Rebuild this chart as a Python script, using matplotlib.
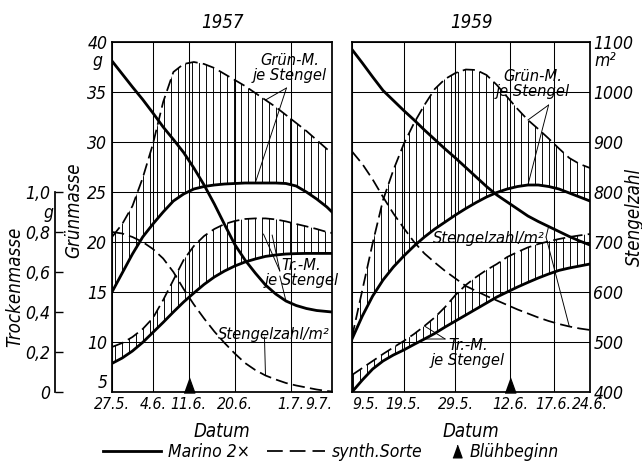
import matplotlib.pyplot as plt
from matplotlib.lines import Line2D
from matplotlib.transforms import blended_transform_factory

plt.rcParams['font.family'] = ['DejaVu Sans']
plt.rcParams['font.stretch'] = 'condensed'
plt.rcParams['font.style'] = 'italic'
plt.rcParams['font.size'] = 15
plt.rcParams['xtick.labelsize'] = 13.5
plt.rcParams['ytick.labelsize'] = 15
plt.rcParams['hatch.linewidth'] = 0.8

# days after first sampling date
days_57 = [0, 2, 4, 6, 8, 10, 12, 14, 16, 18, 20, 22, 24, 26, 28, 30, 32, 34, 36, 38, 40, 42, 43]
ticks_57 = [0, 8, 15, 24, 35, 43]
labels_57 = ['27.5.', '4.6.', '11.6.', '20.6.', '1.7.', '9.7.']
bloom_57 = 15

days_59 = [0, 2, 4, 6, 8, 10, 12, 14, 16, 18, 20, 22, 24, 26, 28, 30, 32, 34, 36, 38, 40, 42, 44, 46]
ticks_59 = [0, 10, 20, 30.6, 39, 46]
labels_59 = ['9.5.', '19.5.', '29.5.', '12.6.', '17.6.', '24.6.']
bloom_59 = 30.6

# Stengelzahl/m2
stems_marino_57 = [1062, 1036, 1010, 985, 958, 930, 905, 879, 848, 814, 776, 735, 695, 664, 638,
                   614, 596, 582, 573, 567, 563, 561, 560]
stems_synth_57 = [720, 717, 710, 700, 686, 667, 640, 606, 575, 547, 521, 498, 477, 458, 444,
                  433, 425, 418, 413, 409, 405, 402, 401]
stems_marino_59 = [1085, 1058, 1030, 1003, 983, 963, 944, 924, 905, 886, 868, 849, 830, 811, 794,
                   780, 766, 752, 741, 731, 721, 711, 702, 694]
stems_synth_59 = [881, 856, 825, 790, 757, 728, 700, 677, 659, 642, 627, 612, 602, 592, 583,
                  574, 565, 557, 549, 542, 536, 531, 527, 524]

# Grünmasse je Stengel (g)
green_marino_57 = [15.0, 16.9, 18.8, 20.5, 21.8, 23.0, 24.1, 24.8, 25.3, 25.55, 25.7, 25.8, 25.85,
                   25.9, 25.9, 25.9, 25.9, 25.85, 25.6, 25.0, 24.3, 23.5, 23.0]
green_synth_57 = [20.5, 21.8, 23.6, 26.4, 29.8, 34.0, 37.0, 37.8, 38.0, 37.8, 37.4, 36.8, 36.2,
                  35.6, 34.9, 34.2, 33.5, 32.7, 31.9, 31.1, 30.2, 29.3, 28.9]
green_marino_59 = [10.3, 12.6, 14.6, 16.2, 17.5, 18.6, 19.6, 20.5, 21.3, 22.0, 22.7, 23.35, 23.95,
                   24.5, 24.95, 25.3, 25.55, 25.7, 25.7, 25.55, 25.3, 24.9, 24.5, 24.1]
green_synth_59 = [10.5, 15.2, 19.9, 24.2, 27.2, 29.8, 31.9, 33.7, 35.3, 36.3, 36.9, 37.25, 37.2,
                  36.7, 35.7, 34.5, 33.3, 32.2, 31.3, 30.35, 29.35, 28.4, 27.8, 27.4]

# Trockenmasse je Stengel (g)
dry_marino_57 = [0.143, 0.17, 0.205, 0.248, 0.298, 0.348, 0.40, 0.45, 0.495, 0.538, 0.575, 0.605,
                 0.63, 0.65, 0.665, 0.678, 0.685, 0.69, 0.692, 0.693, 0.693, 0.693, 0.693]
dry_synth_57 = [0.225, 0.245, 0.275, 0.315, 0.37, 0.46, 0.56, 0.66, 0.73, 0.78, 0.815, 0.84,
                0.855, 0.865, 0.868, 0.868, 0.863, 0.853, 0.84, 0.828, 0.815, 0.80, 0.795]
dry_marino_59 = [0.0, 0.06, 0.115, 0.155, 0.185, 0.21, 0.238, 0.265, 0.293, 0.325, 0.355, 0.385,
                 0.415, 0.445, 0.475, 0.50, 0.525, 0.548, 0.57, 0.59, 0.608, 0.62, 0.63, 0.64]
dry_synth_59 = [0.085, 0.12, 0.155, 0.19, 0.223, 0.255, 0.29, 0.33, 0.373, 0.425, 0.485, 0.535,
                0.575, 0.61, 0.64, 0.675, 0.70, 0.723, 0.74, 0.753, 0.765, 0.775, 0.783, 0.79]

green_ticks = [5, 10, 15, 20, 25, 30, 35, 40]
stem_ticks = [400, 500, 600, 700, 800, 900, 1000, 1100]
dry_ticks = [0, 0.2, 0.4, 0.6, 0.8, 1.0]
dry_labels = ['0', '0,2', '0,4', '0,6', '0,8', '1,0']

SOLID = dict(color='k', lw=2.4, ls='-')
DASHED = dict(color='k', lw=1.5, ls=(0, (7, 3)))
LEADER = dict(arrowstyle='-', color='k', lw=0.8, shrinkA=0, shrinkB=0)
TRIANGLE = [(-0.36, -0.5), (0.36, -0.5), (0, 0.5)]


def draw_panel(ax, days, ticks, labels, bloom, stems_m, stems_s, green_m, green_s, dry_m, dry_s):
    ax.set_xlim(days[0], days[-1])
    ax.set_ylim(5, 40)
    ax.set_xticks(ticks)
    ax.set_xticklabels(labels)
    ax.set_yticks(green_ticks)
    ax.grid(True, color='k', lw=0.9)
    ax.tick_params(length=0, pad=4)
    for s in ax.spines.values():
        s.set_linewidth(1.5)

    ax_s = ax.twinx()
    ax_s.set_ylim(400, 1100)
    ax_t = ax.twinx()
    ax_t.set_ylim(0, 1.75)
    for a in (ax_s, ax_t):
        for s in a.spines.values():
            s.set_visible(False)
        a.set_yticks([])

    # green mass per stem
    ax.fill_between(days, green_m, green_s, facecolor='none', edgecolor='k', hatch='||', lw=0)
    ax.plot(days, green_m, **SOLID)
    ax.plot(days, green_s, **DASHED)
    # dry mass per stem
    ax_t.fill_between(days, dry_m, dry_s, facecolor='none', edgecolor='k', hatch='||', lw=0)
    ax_t.plot(days, dry_m, **SOLID)
    ax_t.plot(days, dry_s, **DASHED)
    # stems per m2
    ax_s.plot(days, stems_m, **SOLID)
    ax_s.plot(days, stems_s, **DASHED)

    tr = blended_transform_factory(ax.transData, ax.transAxes)
    ax.plot([bloom], [0.021], transform=tr, marker=TRIANGLE, ms=13, color='k',
            clip_on=False, zorder=5)

    ax.set_xlabel('Datum', fontsize=16)
    ax.xaxis.set_label_coords(0.5, -0.085)
    return ax_s, ax_t


fig = plt.figure(figsize=(642 / 84, 464 / 84), dpi=84)
ax57 = fig.add_axes([112 / 642, 72 / 464, 220 / 642, 350 / 464])
ax59 = fig.add_axes([352 / 642, 72 / 464, 238 / 642, 350 / 464])

s57, t57 = draw_panel(ax57, days_57, ticks_57, labels_57, bloom_57, stems_marino_57, stems_synth_57,
                      green_marino_57, green_synth_57, dry_marino_57, dry_synth_57)
s59, t59 = draw_panel(ax59, days_59, ticks_59, labels_59, bloom_59, stems_marino_59, stems_synth_59,
                      green_marino_59, green_synth_59, dry_marino_59, dry_synth_59)

ax57.get_xticklabels()[-1].set_ha('right')
ax57.get_yticklabels()[0].set_va('bottom')
ax59.get_xticklabels()[0].set_ha('left')
ax59.set_yticklabels([])

ax57.text(0.5, 1.057, '1957', transform=ax57.transAxes, ha='center', va='center', fontsize=16)
ax59.text(0.5, 1.057, '1959', transform=ax59.transAxes, ha='center', va='center', fontsize=16)

# Grünmasse axis
ax57.set_ylabel('Grünmasse', fontsize=16)
ax57.yaxis.set_label_coords(-0.13, 0.52)
ax57.text(-0.068, 0.946, 'g', transform=ax57.transAxes, ha='center', va='center')

# Trockenmasse axis, offset to the left
t57.spines['left'].set_visible(True)
t57.spines['left'].set_position(('outward', 49))
t57.spines['left'].set_bounds(0, 1.0)
t57.spines['left'].set_linewidth(1.5)
t57.yaxis.set_ticks_position('left')
t57.yaxis.set_label_position('left')
t57.set_yticks(dry_ticks)
t57.set_yticklabels(dry_labels)
t57.tick_params(axis='y', direction='in', length=7, width=1.2, pad=4)
t57.set_ylabel('Trockenmasse', fontsize=16)
t57.yaxis.set_label_coords(-0.40, 0.30)
ax57.text(-0.29, 0.512, 'g', transform=ax57.transAxes, ha='center', va='center')

# Stengelzahl axis on the right
s59.set_yticks(stem_ticks)
s59.tick_params(axis='y', length=0, pad=3)
s59.set_ylabel('Stengelzahl', fontsize=16)
s59.yaxis.set_label_coords(1.145, 0.50)
ax59.text(1.02, 0.946, 'm²', transform=ax59.transAxes, ha='left', va='center')

# labels with leader lines, 1957
i30, i28 = days_57.index(30), days_57.index(28)
ax57.text(34.8, 37.4, 'Grün-M.\nje Stengel', ha='center', va='center', linespacing=0.95, fontsize=14)
ax57.annotate('', xy=(days_57[i30], green_synth_57[i30]), xytext=(34.1, 35.4), arrowprops=LEADER)
ax57.annotate('', xy=(days_57[i28], green_marino_57[i28]), xytext=(34.1, 35.4), arrowprops=LEADER)

ax57.text(37.0, 16.9, 'Tr.-M.\nje Stengel', ha='center', va='center', linespacing=0.95, fontsize=14)
ax57.annotate('', xy=(29.6, 20.8), xytext=(32.8, 17.1), arrowprops=LEADER)
ax57.annotate('', xy=(31.3, 20.7), xytext=(32.8, 17.1), arrowprops=LEADER)

ax57.text(31.6, 10.7, 'Stengelzahl/m²', ha='center', va='center', fontsize=14)
i34, i30 = days_57.index(34), days_57.index(30)
s57.annotate('', xy=(days_57[i34], stems_marino_57[i34]), xytext=(32.8, 632), arrowprops=LEADER)
s57.annotate('', xy=(days_57[i30], stems_synth_57[i30]), xytext=(29.8, 510), arrowprops=LEADER)

# labels with leader lines, 1959
j34 = days_59.index(34)
ax59.text(35.0, 35.8, 'Grün-M.\nje Stengel', ha='center', va='center', linespacing=0.95, fontsize=14)
ax59.annotate('', xy=(days_59[j34], green_synth_59[j34]), xytext=(38.0, 33.7), arrowprops=LEADER)
ax59.annotate('', xy=(days_59[j34], green_marino_59[j34]), xytext=(38.0, 33.7), arrowprops=LEADER)

ax59.text(26.5, 20.4, 'Stengelzahl/m²', ha='center', va='center', fontsize=14)
j38, j42 = days_59.index(38), days_59.index(42)
s59.annotate('', xy=(days_59[j38], stems_marino_59[j38]), xytext=(37.5, 710), arrowprops=LEADER)
s59.annotate('', xy=(days_59[j42], stems_synth_59[j42]), xytext=(37.5, 710), arrowprops=LEADER)

ax59.text(22.4, 8.9, 'Tr.-M.\nje Stengel', ha='center', va='center', linespacing=0.95, fontsize=14)
j14 = days_59.index(14)
t59.annotate('', xy=(days_59[j14], dry_synth_59[j14]), xytext=(18.0, 0.265), arrowprops=LEADER)
t59.annotate('', xy=(days_59[j14], dry_marino_59[j14]), xytext=(18.0, 0.265), arrowprops=LEADER)

# legend
solid_h = Line2D([], [], **SOLID)
dashed_h = Line2D([], [], color='k', lw=1.5, ls=(0, (9, 4)))
bloom_h = Line2D([], [], ls='none', color='k', marker=TRIANGLE, ms=11)
fig.legend([solid_h, dashed_h], ['Marino 2×', 'synth.Sorte'], loc='center',
           bbox_to_anchor=(263 / 642, 12 / 464), ncol=2, frameon=False, handlelength=3.3,
           handletextpad=0.4, columnspacing=1.0, borderpad=0, fontsize=15)
fig.legend([bloom_h], ['Blühbeginn'], loc='center', bbox_to_anchor=(505 / 642, 12 / 464),
           frameon=False, handlelength=0.6, handletextpad=0.4, borderpad=0, fontsize=15)

fig.savefig('out.png', dpi=84)
